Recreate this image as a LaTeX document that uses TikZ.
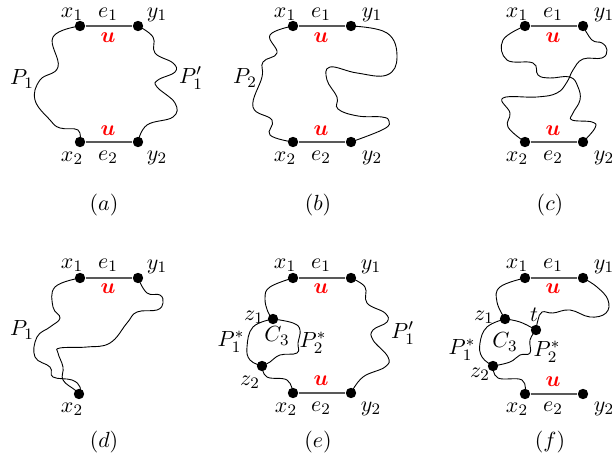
\documentclass[tikz,border=0pt]{standalone}
\usepackage{bm}
\begin{document}
\begin{tikzpicture}[x=0.5pt,y=-0.5pt,font=\fontsize{11}{13}\selectfont,
  dot/.style={circle,fill=black,inner sep=0pt,minimum size=5.2pt},
  edgeline/.style={draw=black!65,line width=0.8pt},
  lbl/.style={inner sep=0pt},
  ulbl/.style={inner sep=0pt,text=red}]
\useasboundingbox (0,0) rectangle (612,460);
% ================= (a)
\node[dot] (ax1) at (80,26) {};
\node[dot] (ay1) at (138,26) {};
\node[dot] (ax2) at (80,142) {};
\node[dot] (ay2) at (138,142) {};
\draw[edgeline] (ax1) -- (ay1);
\draw[edgeline] (ax2) -- (ay2);
\draw[line width=0.45pt] plot[smooth,tension=0.7] coordinates {(ax1.center) (53,37) (58,67) (40,80) (35,100) (50,120) (60,128) (78,130) (ax2.center)};
\draw[line width=0.45pt] plot[smooth,tension=0.7] coordinates {(ay1.center) (153,37) (155,53) (173,63) (175,72) (158,80) (157,87) (175,103) (173,117) (147,125) (ay2.center)};
\node[lbl] (axl1) at (72,14) {$x_1$};
\node[lbl] (ael1) at (108,14) {$e_1$};
\node[lbl] (ayl1) at (157,15) {$y_1$};
\node[ulbl] (au1) at (108,38) {$\bm{u}$};
\node[ulbl] (au2) at (108,131) {$\bm{u}$};
\node[lbl] (axl2) at (72,158) {$x_2$};
\node[lbl] (ael2) at (108,157) {$e_2$};
\node[lbl] (ayl2) at (157,158) {$y_2$};
\node[lbl] (aP1) at (22,79) {$P_1$};
\node[lbl] (aP1p) at (191,78) {$P_1'$};
\node[lbl] (acap) at (104,205) {$(a)$};
% ================= (b)
\node[dot] (bx1) at (293,26) {};
\node[dot] (by1) at (351,26) {};
\node[dot] (bx2) at (293,142) {};
\node[dot] (by2) at (351,142) {};
\draw[edgeline] (bx1) -- (by1);
\draw[edgeline] (bx2) -- (by2);
\draw[line width=0.45pt] plot[smooth,tension=0.7] coordinates {(bx1.center) (270,35) (277,53) (263,62) (262,77) (253,107) (272,120) (270,135) (bx2.center)};
\draw[line width=0.45pt] plot[smooth,tension=0.7] coordinates {(by1.center) (387,33) (397,57) (387,75) (357,73) (330,67) (327,80) (337,97) (338,109) (358,116) (382,117) (389,121) (384,129) (by2.center)};
\node[lbl] (bxl1) at (285,14) {$x_1$};
\node[lbl] (bel1) at (321,14) {$e_1$};
\node[lbl] (byl1) at (372,15) {$y_1$};
\node[ulbl] (bu1) at (321,38) {$\bm{u}$};
\node[ulbl] (bu2) at (321,131) {$\bm{u}$};
\node[lbl] (bxl2) at (285,158) {$x_2$};
\node[lbl] (bel2) at (321,157) {$e_2$};
\node[lbl] (byl2) at (372,158) {$y_2$};
\node[lbl] (bP2) at (245,78) {$P_2$};
\node[lbl] (bcap) at (318,205) {$(b)$};
% ================= (c)
\node[dot] (cx1) at (525,26) {};
\node[dot] (cy1) at (583,26) {};
\node[dot] (cx2) at (525,142) {};
\node[dot] (cy2) at (583,142) {};
\draw[edgeline] (cx1) -- (cy1);
\draw[edgeline] (cx2) -- (cy2);
\draw[line width=0.45pt] plot[smooth,tension=0.7] coordinates {(cx1.center) (503,40) (507,60) (533,63) (538,75) (550,78) (570,77) (578,87) (580,100) (573,113) (572,120) (592,122) (595,128) (cy2.center)};
\draw[line width=0.45pt] plot[smooth,tension=0.7] coordinates {(cy1.center) (592,40) (602,43) (607,50) (602,58) (583,59) (573,70) (567,82) (557,93) (537,97) (503,98) (510,113) (508,127) (cx2.center)};
\node[lbl] (cxl1) at (517,14) {$x_1$};
\node[lbl] (cel1) at (553,14) {$e_1$};
\node[lbl] (cyl1) at (604,15) {$y_1$};
\node[ulbl] (cu1) at (553,38) {$\bm{u}$};
\node[ulbl] (cu2) at (553,131) {$\bm{u}$};
\node[lbl] (cxl2) at (517,158) {$x_2$};
\node[lbl] (cel2) at (553,157) {$e_2$};
\node[lbl] (cyl2) at (604,158) {$y_2$};
\node[lbl] (ccap) at (550,205) {$(c)$};
% ================= (d)
\node[dot] (dx1) at (80,278) {};
\node[dot] (dy1) at (138,278) {};
\node[dot] (dx2) at (79,394) {};
\draw[edgeline] (dx1) -- (dy1);
\draw[line width=0.45pt] plot[smooth,tension=0.7] coordinates {(dx1.center) (55,287) (53,307) (60,318) (50,327) (37,337) (35,357) (50,367) (53,377) (72,380) (80,387) (dx2.center)};
\draw[line width=0.45pt] plot[smooth,tension=0.7] coordinates {(dy1.center) (147,293) (160,295) (163,303) (157,310) (137,312) (127,323) (110,343) (87,347) (60,348) (58,353) (63,367) (63,380) (75,390) (dx2.center)};
\node[lbl] (dxl1) at (72,265) {$x_1$};
\node[lbl] (del1) at (108,265) {$e_1$};
\node[lbl] (dyl1) at (157,267) {$y_1$};
\node[ulbl] (du1) at (108,289) {$\bm{u}$};
\node[lbl] (dxl2) at (72,409) {$x_2$};
\node[lbl] (dP1) at (22,330) {$P_1$};
\node[lbl] (dcap) at (104,442) {$(d)$};
% ================= (e)
\node[dot] (ex1) at (293,278) {};
\node[dot] (ey1) at (351,278) {};
\node[dot] (ex2) at (293,393) {};
\node[dot] (ey2) at (351,393) {};
\node[dot] (ez1) at (273,319) {};
\node[dot] (ez2) at (262,366) {};
\draw[edgeline] (ex1) -- (ey1);
\draw[edgeline] (ex2) -- (ey2);
\draw[line width=0.45pt] plot[smooth,tension=0.7] coordinates {(ex1.center) (270,287) (265,298) (268,312) (ez1.center)};
\draw[line width=0.45pt] plot[smooth,tension=0.7] coordinates {(ez1.center) (253,327) (247,347) (250,360) (ez2.center)};
\draw[line width=0.45pt] plot[smooth,tension=0.7] coordinates {(ez1.center) (293,323) (300,330) (298,343) (297,353) (280,355) (270,362) (ez2.center)};
\draw[line width=0.45pt] plot[smooth,tension=0.7] coordinates {(ez2.center) (267,377) (287,380) (ex2.center)};
\draw[line width=0.45pt] plot[smooth,tension=0.7] coordinates {(ey1.center) (365,287) (367,303) (385,313) (387,322) (373,330) (373,340) (388,357) (385,367) (363,377) (ey2.center)};
\node[lbl] (exl1) at (285,265) {$x_1$};
\node[lbl] (eel1) at (321,265) {$e_1$};
\node[lbl] (eyl1) at (371,267) {$y_1$};
\node[ulbl] (eu1) at (321,289) {$\bm{u}$};
\node[ulbl] (eu2) at (321,381) {$\bm{u}$};
\node[lbl] (exl2) at (286,409) {$x_2$};
\node[lbl] (eel2) at (321,408) {$e_2$};
\node[lbl] (eyl2) at (371,409) {$y_2$};
\node[lbl] (ezl1) at (254,317) {$z_1$};
\node[lbl] (ezl2) at (250,382) {$z_2$};
\node[lbl] (eC3) at (277,336) {$C_3$};
\node[lbl] (eP1s) at (231,342) {$P_1^*$};
\node[lbl] (eP2s) at (313,343) {$P_2^*$};
\node[lbl] (eP1p) at (403,333) {$P_1'$};
\node[lbl] (ecap) at (318,442) {$(e)$};
% ================= (f)
\node[dot] (fx1) at (525,278) {};
\node[dot] (fy1) at (583,278) {};
\node[dot] (fx2) at (525,394) {};
\node[dot] (fy2) at (583,394) {};
\node[dot] (fz1) at (505,319) {};
\node[dot] (ft) at (536,330) {};
\node[dot] (fz2) at (493,366) {};
\draw[edgeline] (fx1) -- (fy1);
\draw[edgeline] (fx2) -- (fy2);
\draw[line width=0.45pt] plot[smooth,tension=0.7] coordinates {(fx1.center) (500,287) (497,302) (fz1.center)};
\draw[line width=0.45pt] plot[smooth,tension=0.7] coordinates {(fz1.center) (520,322) (ft.center)};
\draw[line width=0.45pt] plot[smooth,tension=0.7] coordinates {(ft.center) (538,320) (542,312) (553,313) (570,310) (590,317) (606,313) (608,300) (597,287) (fy1.center)};
\draw[line width=0.45pt] plot[smooth,tension=0.7] coordinates {(fz1.center) (487,327) (480,343) (482,357) (fz2.center)};
\draw[line width=0.45pt] plot[smooth,tension=0.7] coordinates {(ft.center) (530,340) (530,353) (520,355) (510,362) (fz2.center)};
\draw[line width=0.45pt] plot[smooth,tension=0.7] coordinates {(fz2.center) (498,378) (522,380) (fx2.center)};
\node[lbl] (fxl1) at (517,265) {$x_1$};
\node[lbl] (fel1) at (553,265) {$e_1$};
\node[lbl] (fyl1) at (604,267) {$y_1$};
\node[ulbl] (fu1) at (553,289) {$\bm{u}$};
\node[ulbl] (fu2) at (553,382) {$\bm{u}$};
\node[lbl] (fxl2) at (517,409) {$x_2$};
\node[lbl] (fel2) at (553,408) {$e_2$};
\node[lbl] (fyl2) at (604,409) {$y_2$};
\node[lbl] (fzl1) at (484,317) {$z_1$};
\node[lbl] (ftl) at (534,315) {$t$};
\node[lbl] (fzl2) at (480,374) {$z_2$};
\node[lbl] (fC3) at (505,342) {$C_3$};
\node[lbl] (fP1s) at (462,350) {$P_1^*$};
\node[lbl] (fP2s) at (547,352) {$P_2^*$};
\node[lbl] (fcap) at (550,442) {$(f)$};
\end{tikzpicture}
\end{document}
